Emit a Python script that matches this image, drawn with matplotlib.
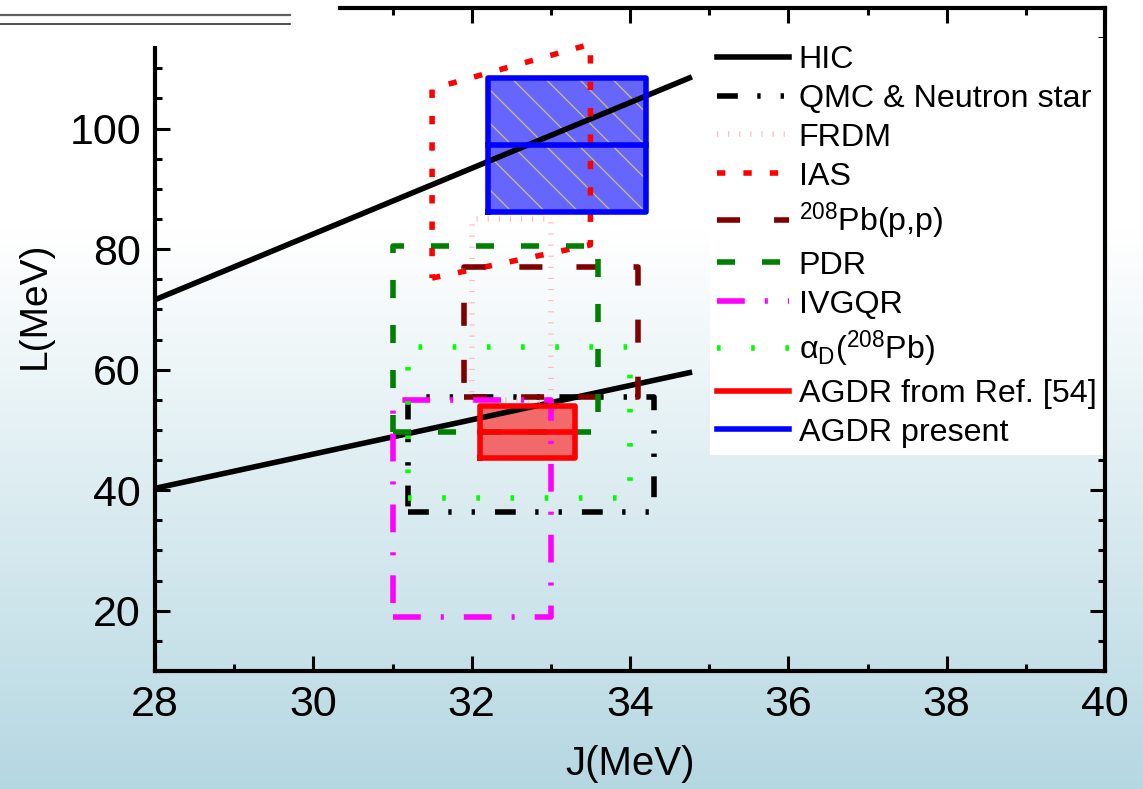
import numpy as np
import matplotlib.pyplot as plt
from matplotlib.lines import Line2D
from matplotlib.patches import Rectangle
from matplotlib.ticker import MultipleLocator

plt.rcParams['font.family'] = ['Liberation Sans', 'DejaVu Sans']
plt.rcParams['mathtext.fontset'] = 'custom'
plt.rcParams['mathtext.rm'] = 'Liberation Sans'
plt.rcParams['mathtext.it'] = 'Liberation Sans'
plt.rcParams['lines.scale_dashes'] = False
plt.rcParams['hatch.linewidth'] = 0.9

# --- symmetry energy J and slope L constraints (MeV) ---
hic_J = [28.0, 34.75]
hic_L_upper = [71.6, 108.4]
hic_L_lower = [40.3, 59.5]

qmc_J, qmc_L = [31.2, 34.3], [36.4, 55.4]
frdm_J, frdm_L = [32.0, 33.0], [55.0, 85.0]
ias_J = [31.5, 33.5]
ias_L_low = [75.2, 80.7]
ias_L_high = [106.6, 114.0]
pbpp_J, pbpp_L = [31.9, 34.1], [55.4, 77.0]
pdr_J, pdr_L = [31.0, 33.6], [49.6, 80.5]
ivgqr_J, ivgqr_L = [31.0, 33.0], [19.0, 54.9]
alpha_J, alpha_L = [31.2, 34.0], [38.7, 63.8]

agdr54_J, agdr54_L, agdr54_mid = [32.1, 33.3], [45.3, 54.0], 49.6
agdr_J, agdr_L, agdr_mid = [32.2, 34.2], [86.1, 108.4], 97.2


def box(J, L):
    xs = [J[0], J[1], J[1], J[0], J[0]]
    ys = [L[0], L[0], L[1], L[1], L[0]]
    return xs, ys


fig = plt.figure(figsize=(11.43, 7.89), dpi=100)

# slide background: white fading to pale blue
bg = fig.add_axes([0, 0, 1, 1], zorder=-10)
rows = np.arange(789)
t = np.clip((rows - 230) / (789 - 230), 0, 1)[:, None]
top_c = np.array([1.0, 1.0, 1.0])
bot_c = np.array([0.71, 0.845, 0.885])
grad = (top_c * (1 - t) + bot_c * t)[:, None, :]
bg.imshow(grad, aspect='auto', extent=[0, 1, 0, 1])
bg.axis('off')

ax = fig.add_axes([155 / 1143, 118 / 789, 950 / 1143, 663 / 789])
ax.set_facecolor('none')

lw = 4.0
ax.plot(hic_J, hic_L_upper, color='black', lw=lw, label='HIC')
ax.plot(hic_J, hic_L_lower, color='black', lw=lw)

ax.plot(*box(qmc_J, qmc_L), color='black', lw=lw,
        ls=(0, (15, 14, 2.4, 14.4, 2.4, 14.4)), label='QMC & Neutron star')
ax.plot(*box(frdm_J, frdm_L), color='#ffb8b8', lw=lw,
        ls=(0, (0.8, 7.2)), label='FRDM')
ax.plot([ias_J[0], ias_J[1], ias_J[1], ias_J[0], ias_J[0]],
        [ias_L_low[0], ias_L_low[1], ias_L_high[1], ias_L_high[0], ias_L_low[0]],
        color='red', lw=lw, ls=(0, (6, 13)), label='IAS')
ax.plot(*box(pbpp_J, pbpp_L), color='#800000', lw=lw,
        ls=(0, (16.6, 24.5)), label='$^{208}$Pb(p,p)')
ax.plot(*box(pdr_J, pdr_L), color='#008000', lw=lw,
        ls=(0, (13, 19.4)), label='PDR')
ax.plot(*box(ivgqr_J, ivgqr_L), color='magenta', lw=lw,
        ls=(0, (20, 14.4, 2.2, 14.4)), label='IVGQR')
ax.plot(*box(alpha_J, alpha_L), color='#00ff00', lw=lw,
        ls=(0, (2.6, 22)), label='α$_{\\rm D}$($^{208}$Pb)')

# AGDR from Ref. [54]
ax.fill(*box(agdr54_J, agdr54_L), color='red', alpha=0.56, lw=0)
ax.plot(*box(agdr54_J, agdr54_L), color='red', lw=lw, label='AGDR from Ref. [54]')
ax.plot(agdr54_J, [agdr54_mid, agdr54_mid], color='red', lw=lw)

# AGDR present, hatched
ax.fill(*box(agdr_J, agdr_L), color='blue', alpha=0.6, lw=0)
ax.add_patch(Rectangle((agdr_J[0], agdr_L[0]), agdr_J[1] - agdr_J[0],
                       agdr_L[1] - agdr_L[0], fill=False, hatch='\\',
                       edgecolor='#e0d050', lw=0, alpha=0.85))
ax.plot(*box(agdr_J, agdr_L), color='blue', lw=lw, label='AGDR present')
ax.plot(agdr_J, [agdr_mid, agdr_mid], color='blue', lw=lw)

ax.set_xlim(28, 40)
ax.set_ylim(10, 120)
ax.xaxis.set_major_locator(MultipleLocator(2))
ax.xaxis.set_minor_locator(MultipleLocator(1))
ax.yaxis.set_major_locator(MultipleLocator(20))
ax.yaxis.set_minor_locator(MultipleLocator(5))
ax.set_yticks([20, 40, 60, 80, 100])
ax.tick_params(which='both', direction='in', top=True, right=True,
               width=2.2, labelsize=31)
ax.tick_params(which='major', length=11, pad=10)
ax.tick_params(which='minor', length=5)
for sp in ax.spines.values():
    sp.set_linewidth(3)

ax.set_xlabel('J(MeV)', fontsize=29)
ax.set_ylabel('L(MeV)', fontsize=28)
ax.xaxis.set_label_coords(0.5, -0.112)
ax.yaxis.set_label_coords(-0.108, 0.552)

leg = ax.legend(loc='upper left', bbox_to_anchor=(0.584, 0.955),
                borderaxespad=0, fontsize=23.2, frameon=True, fancybox=False,
                handlelength=2.24, handletextpad=0.3, borderpad=0.22,
                labelspacing=0.275)
leg.get_frame().set_edgecolor('none')
leg.get_frame().set_facecolor('white')
leg.get_frame().set_alpha(1)
leg.set_zorder(2.4)

# title bar in the upper left corner
fig.patches.append(Rectangle((0, 1 - 46 / 789), 338 / 1143, 46 / 789,
                             transform=fig.transFigure, facecolor='white',
                             edgecolor='none', zorder=5))
fig.lines.append(Line2D([0, 290 / 1143], [1 - 15 / 789] * 2, color='#606060',
                        lw=1.6, transform=fig.transFigure, zorder=6))
fig.lines.append(Line2D([0, 290 / 1143], [1 - 24 / 789] * 2, color='#303030',
                        lw=1.2, transform=fig.transFigure, zorder=6))

fig.savefig('out.png', dpi=100)
